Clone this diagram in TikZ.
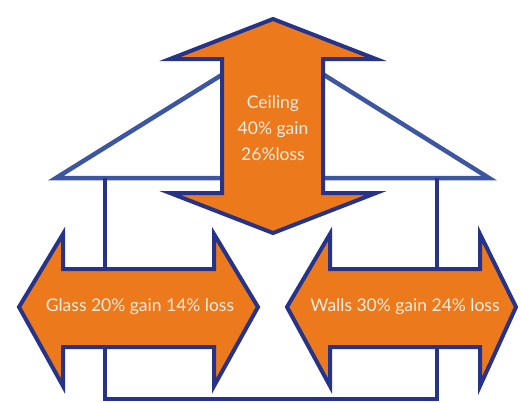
\documentclass[tikz,border=0pt]{standalone}
\usepackage{fontspec}
\setmainfont{Lato}
\definecolor{arroworange}{HTML}{EC7A1C}
\definecolor{navy}{HTML}{25338A}
\definecolor{roofblue}{HTML}{3D56A2}
\definecolor{txtwhite}{HTML}{FCEDE2}
\tikzset{
  arrowshape/.style={fill=arroworange, draw=navy, line width=4pt, line join=miter},
  roofline/.style={draw=roofblue, line width=4.5pt, line join=miter},
  wallline/.style={draw=navy, line width=4pt},
  label/.style={text=txtwhite, font=\fontsize{17.5}{26}\selectfont, inner sep=0pt, align=center}
}
\begin{document}
\begin{tikzpicture}[x=1pt,y=-1pt]
\useasboundingbox (0,0) rectangle (521,402);
% house
\draw[roofline] (56,178) -- (273,43) -- (489,178) -- cycle;
\draw[wallline] (105,178) -- (105,399) -- (437,399) -- (437,178);
% vertical arrow (ceiling)
\draw[arrowshape] (273,19) -- (376,59) -- (323,59) -- (323,193) -- (376,193)
  -- (273,233) -- (170,193) -- (222,193) -- (222,59) -- (170,59) -- cycle;
% left arrow (glass)
\draw[arrowshape] (19,307) -- (63,234) -- (63,269) -- (214,269) -- (214,234)
  -- (258,307) -- (214,386) -- (214,347) -- (63,347) -- (63,386) -- cycle;
% right arrow (walls)
\draw[arrowshape] (287,307) -- (330,234) -- (330,269) -- (480,269) -- (480,234)
  -- (516,307) -- (480,386) -- (480,347) -- (330,347) -- (330,386) -- cycle;
% labels
\node[label] (ceiling) at (273,128) {Ceiling\\40\% gain\\26\%loss};
\node[label] (glass) at (140,307) {Glass 20\% gain 14\% loss};
\node[label] (walls) at (405,307) {Walls 30\% gain 24\% loss};
\end{tikzpicture}
\end{document}
